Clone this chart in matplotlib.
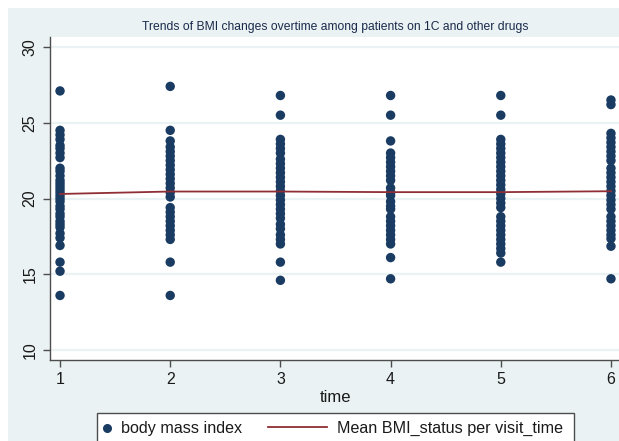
import matplotlib
matplotlib.use('Agg')
import matplotlib.pyplot as plt
from matplotlib.patches import Rectangle
from matplotlib.lines import Line2D

# BMI readings per visit time
times = [1, 2, 3, 4, 5, 6]
bmi_t1 = [27.1, 24.5, 24.2, 23.9, 23.5, 23.3, 23.0, 22.7, 22.0, 21.8, 21.5, 21.2, 21.0, 20.8, 20.6,
          20.4, 20.2, 20.0, 19.8, 19.5, 19.3, 19.0, 18.8, 18.5, 18.3, 18.1, 17.7, 17.4, 16.9, 15.8, 15.2, 13.6]
bmi_t2 = [27.4, 24.5, 23.8, 23.4, 23.1, 22.8, 22.5, 22.2, 21.9, 21.6, 21.3, 21.0, 20.7, 20.4, 20.1,
          19.4, 19.1, 18.8, 18.5, 18.2, 17.9, 17.6, 17.3, 15.8, 13.6]
bmi_t3 = [26.8, 25.5, 23.9, 23.6, 23.3, 23.0, 22.6, 22.3, 22.0, 21.7, 21.4, 21.1, 20.8, 20.5, 20.2,
          19.9, 19.6, 19.3, 19.0, 18.7, 18.3, 18.0, 17.6, 17.3, 17.0, 15.8, 14.6]
bmi_t4 = [26.8, 25.5, 23.8, 23.0, 22.7, 22.4, 22.1, 21.8, 21.5, 21.2, 20.7, 20.4, 20.2, 19.8, 19.5,
          19.3, 18.8, 18.5, 18.2, 17.9, 17.6, 17.3, 17.0, 16.1, 14.7]
bmi_t5 = [26.8, 25.5, 23.9, 23.6, 23.3, 23.0, 22.7, 22.4, 22.1, 21.8, 21.5, 21.2, 20.9, 20.6, 20.3,
          20.0, 19.7, 19.4, 18.8, 18.5, 18.2, 17.9, 17.6, 17.3, 17.0, 16.7, 16.4, 15.8]
bmi_t6 = [26.5, 26.2, 24.3, 24.0, 23.7, 23.4, 23.1, 22.8, 22.5, 22.0, 21.7, 21.4, 21.1, 20.8, 20.5,
          20.2, 19.9, 19.6, 19.3, 18.8, 18.5, 18.2, 17.9, 17.6, 17.35, 16.85, 14.7]
mean_bmi = [20.30, 20.46, 20.46, 20.42, 20.42, 20.48]

y_ticks = [10, 15, 20, 25, 30]

title = 'Trends of BMI changes overtime among patients on 1C and other drugs'
scatter_label = 'body mass index'
line_label = 'Mean BMI_status per visit_time'

# stata s2color look
bg_col = '#eaf2f3'
navy = '#1a3b62'
maroon = '#8f2f35'
axis_col = '#4d4d4d'
text_col = '#1a1a1a'

plt.rcParams['font.family'] = ['Liberation Sans', 'DejaVu Sans']

W, H = 619, 441


def fx(px):
    return px / W


def fy(py):
    # pixel rows counted from the top
    return 1 - py / H


fig = plt.figure(figsize=(W / 100, H / 100), dpi=100)
fig.patch.set_facecolor('white')
# graph region is cropped: light band starts 8px in from left/top
fig.add_artist(Rectangle((fx(8), 0), 1, fy(8), transform=fig.transFigure,
                         facecolor=bg_col, edgecolor='none', zorder=-5))

ax = fig.add_axes([fx(50), fy(360), fx(571), 323 / H], zorder=1)
ax.set_facecolor('white')

all_bmi = [bmi_t1, bmi_t2, bmi_t3, bmi_t4, bmi_t5, bmi_t6]
xs = []
ys = []
for t, vals in zip(times, all_bmi):
    xs += [t] * len(vals)
    ys += vals

ax.scatter(xs, ys, s=46, color=navy, edgecolors='none', zorder=3, clip_on=False)
ax.plot(times, mean_bmi, color=maroon, lw=1.3, zorder=4)

ax.set_xlim(0.909, 6.091)
ax.set_ylim(9.34, 30.66)
ax.set_xticks(times)
ax.set_yticks(y_ticks)
ax.set_yticklabels([str(v) for v in y_ticks], rotation=90, va='center')
ax.grid(axis='y', color=bg_col, lw=1.6, zorder=1)
ax.set_axisbelow(True)

for side in ['top', 'right']:
    ax.spines[side].set_visible(False)
for side in ['left', 'bottom']:
    ax.spines[side].set_color(axis_col)
    ax.spines[side].set_linewidth(1.0)
ax.tick_params(axis='both', colors=axis_col, length=5, width=1.0, labelsize=11.5,
               labelcolor=text_col, pad=4)

ax.set_xlabel('time', fontsize=12, color=text_col, labelpad=2)

fig.text(fx(335), fy(27), title, ha='center', va='center', fontsize=8.7, color='#1a2a4a')

# legend box drawn by hand, bottom part cut off like in the original
fig.add_artist(Rectangle((fx(97), fy(448)), fx(477), 35 / H, transform=fig.transFigure,
                         facecolor='white', edgecolor=axis_col, lw=1.0, zorder=2))
fig.add_artist(Line2D([fx(107)], [fy(428)], transform=fig.transFigure, marker='o',
                      markersize=6.5, color=navy, markeredgewidth=0, zorder=3))
fig.text(fx(121), fy(428), scatter_label, ha='left', va='center', fontsize=11.6,
         color=text_col, zorder=3)
fig.add_artist(Line2D([fx(268), fx(327)], [fy(427), fy(427)], transform=fig.transFigure,
                      color=maroon, lw=1.3, zorder=3))
fig.text(fx(337), fy(428), line_label, ha='left', va='center', fontsize=11.6,
         color=text_col, zorder=3)

fig.savefig('out.png', dpi=100)
